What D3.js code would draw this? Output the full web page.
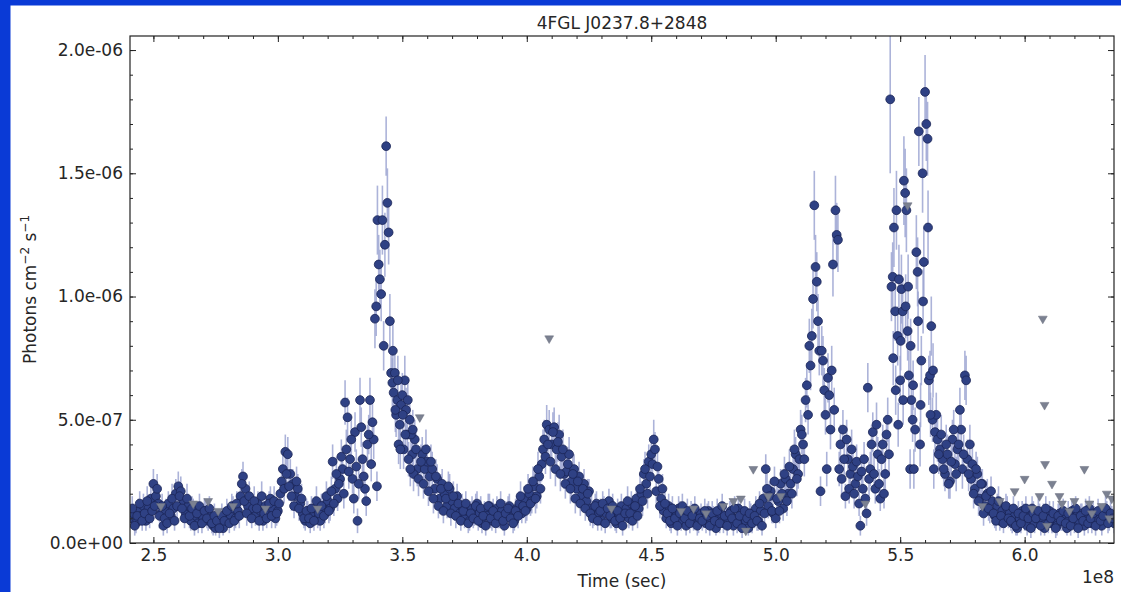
<!DOCTYPE html>
<html>
<head>
<meta charset="utf-8">
<script src="https://cdn.jsdelivr.net/npm/d3@7"></script>
<style>
html,body{margin:0;padding:0;background:#fff;}
svg{display:block;}
text{font-family:"DejaVu Sans",sans-serif;fill:#262626;}
</style>
</head>
<body>
<svg id="chart" width="1121" height="592"></svg>
<script>
// ---- data (time in 1e6 s, flux and error in 1e-8 photons cm^-2 s^-1) ----
const title = "4FGL J0237.8+2848";
const time = [
241,242,243,244,245,246,247,248,249,250,
251,252,253,254,255,256,257,258,259,260,
261,262,263,264,265,266,267,268,269,270,
271,272,273,274,275,276,277,278,279,280,
281,282,283,284,285,286,287,288,289,290,
291,292,293,294,295,296,297,298,299,300,
301,302,303,304,305,306,307,308,309,310,
311,312,313,314,315,316,317,318,319,320,
321,322,323,324,325,326,327,328,329,330,
331,332,333,334,335,336,337,337.5,338,338.5,
339,339.5,339.8,340,340.5,341,341.5,342,342.5,343,
343.5,344,344.5,345,345.5,346,346.5,347,348,349,
350,351,352,353,354,355,356,358,359,360,
361,362,363,364,365,366,367,368,369,370,
371,372,373,374,375,376,377,378,379,380,
381,382,383,384,385,386,387,388,389,390,
391,392,393,394,395,396,397,398,399,400,
401,402,403,404,405,406,407,408,409,410,
411,412,413,414,415,416,417,418,419,420,
421,422,423,424,425,426,427,428,429,430,
431,432,433,434,435,436,437,438,439,440,
441,442,443,444,445,446,447,448,449,450,
451,451.5,452,453,454,455,456,457,458,459,
460,461,462,463,464,465,466,467,468,469,
470,471,472,473,474,475,476,477,478,479,
480,481,482,483,484,485,486,487,488,489,
490,492,493,494,495,496,497,498,499,500,
501,502,503,504,505,506,507,508,509,510,
511,512,512.5,513,513.5,514,514.5,515,515.5,516,
516.5,517,517.5,518,518.5,519,519.5,520,520.5,521,
521.5,522,522.5,523,523.5,524,524.5,525,525.5,526,
527,528,529,530,531,532,533,534,535,536,
537,538,539,540,541,542,543,544,545,546,
546.5,547,547.5,548,548.5,549,549.5,550,550.5,551,
551.5,552,552.5,553,553.5,554,554.5,555,555.5,556,
556.5,557,557.5,558,558.5,559,559.5,560,560.5,561,
561.5,562,562.5,563,563.5,564,565,566,567,568,
569,570,571,572,573,574,574.5,575,576,576.5,
577,578,578.5,579,580,581,582,583,584,585,
586,587,588,589,590,591,592,593,594,595,
596,597,598,599,600,601,602,603,604,605,
606,607,608,609,610,611,612,613,614,615,
616,617,618,619,620,621,622,623,624,625,
626,627,628,629,630,631,632,633,634,635,
636
];
const flux = [
10,12,8,13,11,15,9,14,18,24,
19,16,12,7,13,16,11,14,20,23,
21,17,12,15,9,13,11,8,12,10,
13,9,11,7,6,9,8,6,10,12,
11,14,10,13,19,27,22,15,12,14,
11,16,13,9,15,12,18,14,10,13,
20,30,37,36,28,24,19,22,16,12,
9,13,8,11,14,10,9,15,12,17,
14,33,22,18,26,30,57,51,34,26,
45,9,58,34,22,40,58,32,49,42,
91,96,23,131,113,107,101,131,80,121,
161,138,126,90,69,65,61,69,58,48,
60,66,44,50,36,42,30,36,30,33,
27,30,22,26,18,24,20,15,22,17,
14,19,12,15,10,13,9,14,11,16,
12,8,13,11,15,9,12,14,10,13,
7,11,15,12,9,14,16,12,18,14,
20,17,23,19,27,32,42,48,46,40,
47,38,44,35,28,29,36,25,30,22,
27,19,24,17,21,14,11,16,12,9,
14,12,17,10,13,8,12,15,11,14,
10,16,13,18,14,20,28,24,33,36,
42,38,21,26,18,13,10,15,8,12,
11,14,9,12,7,10,13,9,11,8,
12,10,8,13,9,11,6,10,12,8,
11,9,13,7,10,14,8,11,9,6,
12,14,9,13,18,30,15,21,12,10,
17,24,14,26,20,24,30,36,28,46,
40,58,64,52,80,72,84,99,137,112,
106,90,78,21,78,74,62,52,30,67,
60,46,70,113,54,135,125,123,30,40,
46,19,34,28,31,24,27,7,22,18,
63,30,45,22,36,18,40,28,50,180,
104,108,128,94,135,84,107,66,103,94,
147,142,135,86,68,30,58,50,30,46,
118,110,167,40,74,150,114,183,170,164,
66,68,88,50,30,45,42,38,34,28,
36,25,42,32,38,54,46,30,68,66,
34,40,26,32,22,28,18,24,15,20,
13,17,11,15,9,13,10,14,12,8,
11,6,10,13,9,7,11,14,8,10,
12,9,6,11,13,8,10,7,12,9,
11,6,10,13,8,11,9,12,7,10,
14,8,11,9,12,7,10,13,9,11,
8
];
const fluxErr = [
4,4,4,5,4,5,4,5,5,6,
5,5,4,4,5,5,4,5,6,6,
6,5,4,5,4,5,4,4,4,4,
4,4,4,4,3,4,4,3,4,4,
4,5,4,5,5,6,6,5,4,5,
4,5,4,4,5,4,5,5,4,5,
5,6,7,7,6,6,5,6,5,4,
4,4,4,4,5,4,4,5,4,5,
5,7,6,5,6,7,9,8,7,6,
8,5,9,7,6,8,9,7,8,8,
12,12,6,14,12,12,11,14,10,13,
12,14,13,11,10,10,9,10,9,8,
9,10,8,8,7,8,7,7,6,7,
6,7,6,6,5,6,5,5,6,5,
5,5,4,5,4,4,4,5,4,5,
4,4,4,4,5,4,4,5,4,4,
4,4,5,4,4,5,5,4,5,5,
5,5,6,5,6,7,8,8,8,8,
8,7,8,7,6,6,7,6,6,6,
6,5,6,5,5,5,4,5,4,4,
5,4,5,4,4,4,4,5,4,5,
4,5,4,5,5,5,6,6,7,7,
8,7,5,6,5,4,4,5,4,4,
4,5,4,4,4,4,4,4,4,4,
4,4,4,4,4,4,3,4,4,4,
4,4,4,4,4,5,4,4,4,3,
4,5,4,4,5,6,5,5,4,4,
5,6,5,6,5,6,6,7,6,8,
7,9,9,8,11,10,11,12,14,13,
12,11,10,6,10,10,9,8,7,10,
9,8,10,13,9,14,13,13,7,8,
8,5,7,6,7,6,6,4,6,5,
10,7,8,6,7,5,8,7,9,30,
14,14,16,12,16,12,14,10,14,13,
18,18,17,12,10,8,10,9,8,9,
15,14,14,9,10,16,14,15,15,15,
10,10,12,9,8,9,9,8,8,7,
8,7,8,7,8,9,9,8,10,10,
8,8,7,7,6,7,6,6,5,6,
5,5,5,5,4,5,4,5,4,4,
4,3,4,4,4,4,4,5,4,4,
4,4,3,4,4,4,4,4,4,4,
4,3,4,4,4,4,4,4,4,4,
5,4,4,4,4,4,4,4,4,4,
4
];
// additional (interleaved) detections
const extraTime = [
241.5,242.5,243.5,244.5,245.5,246.5,247.5,248.5,249.5,250.5,
251.5,252.5,253.5,254.5,255.5,256.5,257.5,258.5,259.5,260.5,
261.5,262.5,263.5,264.5,265.5,266.5,267.5,268.5,269.5,270.5,
271.5,272.5,273.5,274.5,275.5,276.5,277.5,278.5,279.5,280.5,
281.5,282.5,283.5,284.5,285.5,286.5,287.5,288.5,289.5,290.5,
291.5,292.5,293.5,294.5,295.5,296.5,297.5,298.5,299.5,300.5,
301.5,302.5,303.5,304.5,305.5,306.5,307.5,308.5,309.5,310.5,
311.5,312.5,313.5,314.5,315.5,316.5,317.5,318.5,319.5,320.5,
321.5,322.5,323.5,324.5,325.5,326.5,327.5,328.5,329.5,330.5,
331.5,332.5,333.5,334.5,335.5,336.5,347.5,348.5,349.5,350.5,
351.5,352.5,353.5,354.5,355.5,356.5,357.5,358.5,359.5,360.5,
361.5,362.5,363.5,364.5,365.5,366.5,367.5,368.5,369.5,370.5,
371.5,372.5,373.5,374.5,375.5,376.5,377.5,378.5,379.5,380.5,
381.5,382.5,383.5,384.5,385.5,386.5,387.5,388.5,389.5,390.5,
391.5,392.5,393.5,394.5,395.5,396.5,397.5,398.5,399.5,400.5,
401.5,402.5,403.5,404.5,405.5,406.5,407.5,408.5,409.5,410.5,
411.5,412.5,413.5,414.5,415.5,416.5,417.5,418.5,419.5,420.5,
421.5,422.5,423.5,424.5,425.5,426.5,427.5,428.5,429.5,430.5,
431.5,432.5,433.5,434.5,435.5,436.5,437.5,438.5,439.5,440.5,
441.5,442.5,443.5,444.5,445.5,446.5,447.5,448.5,449.5,450.5,
452.5,453.5,454.5,455.5,456.5,457.5,458.5,459.5,460.5,461.5,
462.5,463.5,464.5,465.5,466.5,467.5,468.5,469.5,470.5,471.5,
472.5,473.5,474.5,475.5,476.5,477.5,478.5,479.5,480.5,481.5,
482.5,483.5,484.5,485.5,486.5,487.5,488.5,489.5,490.5,491.5,
492.5,493.5,494.5,495.5,496.5,497.5,498.5,499.5,500.5,501.5,
502.5,503.5,504.5,505.5,506.5,507.5,508.5,509.5,510.5,511.5,
526.5,527.5,528.5,529.5,530.5,531.5,532.5,533.5,534.5,535.5,
536.5,537.5,538.5,539.5,540.5,541.5,542.5,543.5,544.5,545.5,
564.5,565.5,566.5,567.5,568.5,569.5,570.5,571.5,572.5,573.5,
575.5,577.5,579.5,580.5,581.5,582.5,583.5,584.5,585.5,586.5,
587.5,588.5,589.5,590.5,591.5,592.5,593.5,594.5,595.5,596.5,
597.5,598.5,599.5,600.5,601.5,602.5,603.5,604.5,605.5,606.5,
607.5,608.5,609.5,610.5,611.5,612.5,613.5,614.5,615.5,616.5,
617.5,618.5,619.5,620.5,621.5,622.5,623.5,624.5,625.5,626.5,
627.5,628.5,629.5,630.5,631.5,632.5,633.5,634.5,635.5,
547.2,548.2,549.2,550.2,551.2,552.2,553.2,554.2,555.2,557.2,
558.2,559.2,561.2,562.2,563.2,346.2,347.2,348.2,349.2,350.2,
351.2,352.2,353.2,354.2
];
const extraFlux = [
14,7,11,16,9,12,17,10,13,15,
22,11,15,10,8,12,18,9,15,19,
14,10,18,11,14,7,12,15,8,13,
10,14,8,11,9,6,11,9,13,8,
15,9,16,11,24,17,12,19,10,17,
14,9,19,12,10,16,11,17,12,16,
25,22,28,23,19,15,25,14,18,10,
13,10,14,9,17,12,15,11,19,13,
21,16,28,24,35,20,38,29,42,18,
31,24,47,27,17,44,52,40,56,38,
54,34,44,28,38,26,33,24,38,21,
33,18,27,15,22,13,18,23,12,19,
11,16,9,13,16,8,12,10,15,9,
14,11,7,15,10,13,8,11,16,9,
12,14,10,8,13,11,19,15,13,22,
16,25,18,30,22,38,35,40,33,45,
30,41,28,38,24,32,22,28,18,25,
16,22,14,20,12,10,15,9,13,16,
8,14,11,15,9,13,10,7,12,17,
12,9,15,11,22,17,30,20,27,32,
31,15,22,16,12,9,14,10,7,12,
15,10,13,8,11,14,7,10,9,13,
11,7,12,9,13,8,15,11,7,12,
10,14,8,11,6,13,10,12,8,11,
9,16,7,12,22,19,13,25,18,13,
20,28,17,31,20,38,26,34,44,34,
26,34,42,22,38,20,33,16,29,34,
12,26,40,28,48,24,34,20,44,36,
52,36,44,30,40,24,33,46,28,40,
36,28,20,30,17,24,12,19,14,21,
12,9,17,11,8,15,10,9,14,7,
12,8,11,14,10,6,12,10,13,7,
11,14,8,10,12,6,11,9,13,8,
12,7,10,14,6,11,9,13,8,10,
12,7,13,9,11,14,8,12,10,
75,62,48,82,58,96,104,80,64,90,
56,98,128,52,70,78,54,66,38,52,
44,58,30,46
];
const extraErr = [
5,4,5,5,4,5,6,4,5,5,
6,5,5,4,4,5,6,4,5,6,
5,4,6,5,5,4,5,5,4,5,
4,5,4,5,4,4,5,4,5,4,
5,4,5,5,6,6,5,6,4,6,
5,4,6,5,4,5,5,6,5,5,
6,6,7,6,6,5,6,5,6,4,
5,4,5,4,6,5,5,5,6,5,
6,5,7,6,7,6,8,7,8,6,
7,6,8,7,6,8,9,8,9,8,
9,7,8,7,8,7,7,6,8,6,
7,6,7,5,6,5,6,6,5,6,
5,5,4,5,5,4,5,4,5,4,
5,5,4,5,4,5,4,5,5,4,
5,5,4,4,5,5,6,5,5,6,
5,6,6,7,6,8,7,8,7,8,
7,8,7,8,6,7,6,7,6,6,
5,6,5,6,5,4,5,4,5,5,
4,5,5,5,4,5,4,4,5,6,
5,4,5,5,6,6,7,6,7,7,
7,5,6,5,5,4,5,4,4,5,
5,4,5,4,5,5,4,4,4,5,
5,4,5,4,5,4,5,5,4,5,
4,5,4,5,4,5,4,5,4,5,
4,5,4,5,6,6,5,6,6,5,
6,7,6,7,6,8,7,7,8,7,
7,7,8,6,8,6,7,5,7,7,
5,7,8,7,9,6,7,6,8,8,
9,8,8,7,8,6,7,8,7,8,
8,7,6,7,6,6,5,6,5,6,
5,4,6,5,4,5,4,4,5,4,
5,4,5,5,4,4,5,4,5,4,
5,5,4,4,5,4,5,4,5,4,
5,4,4,5,4,5,4,5,4,4,
5,4,5,4,5,5,4,5,4,
11,10,9,12,10,13,13,11,10,12,
9,13,15,9,11,11,9,10,8,9,
8,9,7,8
];
// upper limits (triangles)
const ulTime = [
253,266,272,276,282,295,316,357,409,434,
462,467,472,479,483,486,488,491,497,502,
536,553,583,590,596,600,603,606,607.3,608,
608.2,609,611,614,615,618,620,624,626,627,
631,633,634,635
];
const ulFlux = [
15,16,17,13,15,14,14,51,83,14,
13,14,12,15,17,18,5,30,19,19,
16,137,15,17,21,26,14,19,91,56,
32,7,24,19,16,13,17,30,16,12,
15,20,10,18
];
// axis ticks
const xTickValues = [250,300,350,400,450,500,550,600];
const xTickLabels = ["2.5","3.0","3.5","4.0","4.5","5.0","5.5","6.0"];
const xMinorValues = [250,260,270,280,290,300,310,320,330,340,350,360,370,380,390,400,410,420,430,440,450,460,470,480,490,500,510,520,530,540,550,560,570,580,590,600,610,620,630];
const yTickValues = [0,50,100,150,200];
const yTickLabels = ["0.0e+00","5.0e-07","1.0e-06","1.5e-06","2.0e-06"];
const yMinorValues = [0,10,20,30,40,50,60,70,80,90,100,110,120,130,140,150,160,170,180,190,200];
const xDomain = [240.6, 635.9];
const yDomain = [0, 205.7];

// ---- drawing ----
const svg = d3.select("#chart");
const L = 130, R = 1114, T = 36, B = 543;

svg.append("rect").attr("x",0).attr("y",0).attr("width",1121).attr("height",592).attr("fill","#ffffff");
svg.append("rect").attr("x",0).attr("y",0).attr("width",1121).attr("height",5.5).attr("fill","#0a3ad6");
svg.append("rect").attr("x",0).attr("y",0).attr("width",10.5).attr("height",592).attr("fill","#0a3ad6");

const x = d3.scaleLinear().domain(xDomain).range([L, R]);
const y = d3.scaleLinear().domain(yDomain).range([B, T]);

svg.append("clipPath").attr("id","clip").append("rect")
  .attr("x",L).attr("y",T).attr("width",R-L).attr("height",B-T);

const plot = svg.append("g").attr("clip-path","url(#clip)");
const allTime = time.concat(extraTime);
const allFlux = flux.concat(extraFlux);
const allErr = fluxErr.concat(extraErr);
const idx = d3.range(allTime.length);

plot.append("g").selectAll("line").data(idx).join("line")
  .attr("x1", i => x(allTime[i])).attr("x2", i => x(allTime[i]))
  .attr("y1", i => y(allFlux[i] - allErr[i])).attr("y2", i => y(allFlux[i] + allErr[i]))
  .attr("stroke","#9ea6d2").attr("stroke-width",1.6).attr("stroke-opacity",0.85);

plot.append("g").selectAll("circle").data(idx).join("circle")
  .attr("cx", i => x(allTime[i])).attr("cy", i => y(allFlux[i]))
  .attr("r",4.4).attr("fill","#2f4184").attr("stroke","#1b2456").attr("stroke-width",0.8);

const tri = d3.symbol().type(d3.symbolTriangle).size(34);
plot.append("g").selectAll("path").data(d3.range(ulTime.length)).join("path")
  .attr("d", tri)
  .attr("transform", i => `translate(${x(ulTime[i])},${y(ulFlux[i])}) rotate(180)`)
  .attr("fill","#7b8191").attr("stroke","#6a6f7e").attr("stroke-width",0.5);

// axes
function styleAxis(g){
  g.select(".domain").remove();
  g.selectAll(".tick line").attr("stroke","#222").attr("stroke-width",1);
  g.selectAll(".tick text").style("font-family","'DejaVu Sans',sans-serif").style("font-size","17px").attr("fill","#262626");
}
svg.append("g").attr("transform",`translate(0,${B})`)
  .call(d3.axisBottom(x).tickValues(xMinorValues).tickFormat("").tickSizeInner(-3).tickSizeOuter(0)).call(styleAxis);
svg.append("g").attr("transform",`translate(0,${T})`)
  .call(d3.axisTop(x).tickValues(xMinorValues).tickFormat("").tickSizeInner(-3).tickSizeOuter(0)).call(styleAxis);
svg.append("g").attr("transform",`translate(${L},0)`)
  .call(d3.axisLeft(y).tickValues(yMinorValues).tickFormat("").tickSizeInner(-3).tickSizeOuter(0)).call(styleAxis);
svg.append("g").attr("transform",`translate(${R},0)`)
  .call(d3.axisRight(y).tickValues(yMinorValues).tickFormat("").tickSizeInner(-3).tickSizeOuter(0)).call(styleAxis);

svg.append("g").attr("transform",`translate(0,${B})`)
  .call(d3.axisBottom(x).tickValues(xTickValues).tickFormat((d,i)=>xTickLabels[i]).tickSizeInner(-6).tickSizeOuter(0).tickPadding(6)).call(styleAxis);
svg.append("g").attr("transform",`translate(0,${T})`)
  .call(d3.axisTop(x).tickValues(xTickValues).tickFormat("").tickSizeInner(-6).tickSizeOuter(0)).call(styleAxis);
svg.append("g").attr("transform",`translate(${L},0)`)
  .call(d3.axisLeft(y).tickValues(yTickValues).tickFormat((d,i)=>yTickLabels[i]).tickSizeInner(-6).tickSizeOuter(0).tickPadding(7)).call(styleAxis);
svg.append("g").attr("transform",`translate(${R},0)`)
  .call(d3.axisRight(y).tickValues(yTickValues).tickFormat("").tickSizeInner(-6).tickSizeOuter(0)).call(styleAxis);

svg.append("rect").attr("x",L).attr("y",T).attr("width",R-L).attr("height",B-T)
  .attr("fill","none").attr("stroke","#222").attr("stroke-width",1.2);

// texts
svg.append("text").attr("x",(L+R)/2).attr("y",29).attr("text-anchor","middle")
  .style("font-size","17px").text(title);
svg.append("text").attr("x",(L+R)/2).attr("y",587).attr("text-anchor","middle")
  .style("font-size","17px").text("Time (sec)");
svg.append("text").attr("x",R).attr("y",583).attr("text-anchor","end")
  .style("font-size","17px").text("1e8");
const yl = svg.append("text").attr("transform",`translate(36,${(T+B)/2}) rotate(-90)`)
  .attr("text-anchor","middle").style("font-size","17px");
yl.append("tspan").text("Photons cm");
yl.append("tspan").attr("dy",-7).style("font-size","12px").text("−2");
yl.append("tspan").attr("dy",7).text(" s");
yl.append("tspan").attr("dy",-7).style("font-size","12px").text("−1");
</script>
</body>
</html>
